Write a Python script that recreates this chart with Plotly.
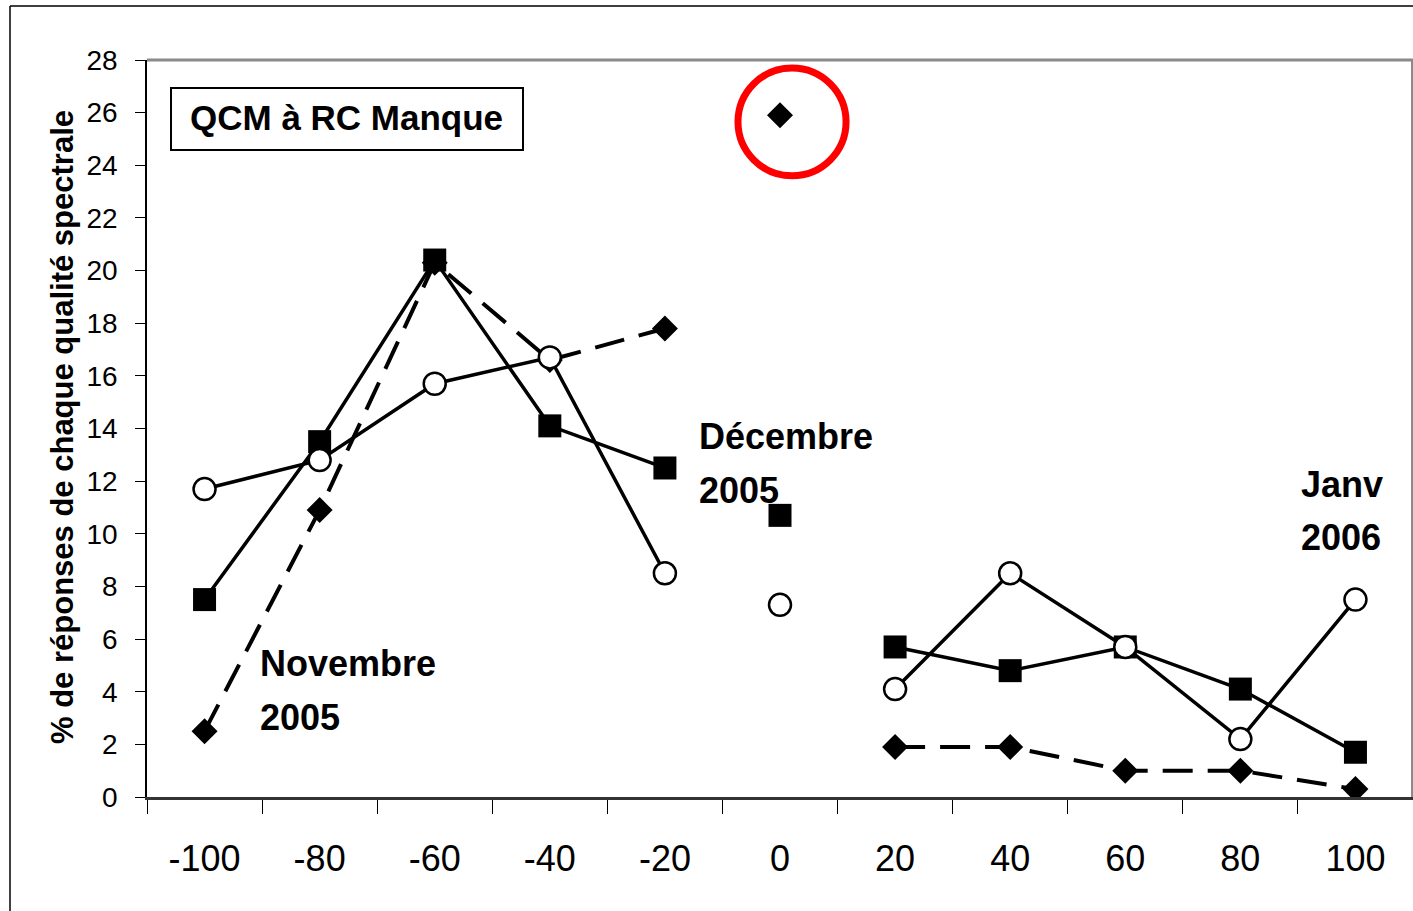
import plotly.graph_objects as go

# ---- data ----
categories = ["-100", "-80", "-60", "-40", "-20", "0", "20", "40", "60", "80", "100"]
squares = [7.5, 13.5, 20.4, 14.1, 12.5, 10.7, 5.7, 4.8, 5.7, 4.1, 1.7]
circles = [11.7, 12.8, 15.7, 16.7, 8.5, 7.3, 4.1, 8.5, 5.7, 2.2, 7.5]
diamonds = [2.5, 10.9, 20.3, 16.6, 17.8, 25.9, 1.9, 1.9, 1.0, 1.0, 0.3]
gap_category = "0"
y_ticks = list(range(0, 29, 2))
y_title = "% de réponses de chaque qualité spectrale"
box_label = "QCM à RC Manque"
period_labels = [("Novembre", "2005"), ("Décembre", "2005"), ("Janv", "2006")]

FONT = "Liberation Sans, Arial, sans-serif"

W, H = 1413, 911
L, R, T, B = 147, 1413, 60, 797  # plot area in pixels


def px_x(p):
    return (p - L) / (R - L)


def px_y(p):
    return (B - p) / (B - T)


def gapped(vals):
    return [v if c != gap_category else None for c, v in zip(categories, vals)]


fig = go.Figure()

series = [
    (diamonds, dict(symbol="diamond", size=20, color="black"), dict(color="black", width=4, dash="30px,15px")),
    (squares, dict(symbol="square", size=23, color="black"), dict(color="black", width=3.5)),
    (circles, dict(symbol="circle", size=22, color="white", line=dict(color="black", width=2.5)),
     dict(color="black", width=3.5)),
]
for vals, mk, ln in series:
    fig.add_trace(go.Scatter(x=categories, y=gapped(vals), mode="lines", line=ln,
                             connectgaps=False, showlegend=False, hoverinfo="skip"))
    fig.add_trace(go.Scatter(x=categories, y=vals, mode="markers", marker=mk,
                             showlegend=False))

shapes = []
# outer frame (partially visible)
shapes.append(dict(type="line", xref="paper", yref="paper", x0=px_x(10), x1=px_x(10),
                   y0=px_y(6), y1=px_y(960), line=dict(color="black", width=1.5)))
shapes.append(dict(type="line", xref="paper", yref="paper", x0=px_x(10), x1=px_x(1460),
                   y0=px_y(6), y1=px_y(6), line=dict(color="black", width=1.5)))
# plot area top border (grey)
shapes.append(dict(type="line", xref="paper", yref="paper", x0=0, x1=1, y0=1, y1=1,
                   line=dict(color="#8a8a8a", width=3)))
shapes.append(dict(type="line", xref="paper", yref="paper", x0=px_x(1412), x1=px_x(1412), y0=0, y1=1,
                   line=dict(color="#8a8a8a", width=2)))
# box around title label
shapes.append(dict(type="rect", xref="paper", yref="paper", x0=px_x(171), x1=px_x(523),
                   y0=px_y(150), y1=px_y(88), line=dict(color="black", width=2),
                   fillcolor="white", layer="below"))
# red circle around the outlier
shapes.append(dict(type="circle", xref="x", yref="y", x0=4.635, x1=5.574, y0=23.6, y1=27.7,
                   line=dict(color="#ff0000", width=7)))

annotations = []
annotations.append(dict(xref="paper", yref="paper", x=px_x(346), y=px_y(118), text=box_label,
                        showarrow=False, xanchor="center", yanchor="middle",
                        font=dict(family=FONT, size=35, color="black", weight="bold")))
label_pos = [(258, 663, 717), (697, 436, 490), (1299, 484, 537)]
for (l1, l2), (lx, y1, y2) in zip(period_labels, label_pos):
    for txt, yy in ((l1, y1), (l2, y2)):
        annotations.append(dict(xref="paper", yref="paper", x=px_x(lx), y=px_y(yy), text=txt,
                                showarrow=False, xanchor="left", yanchor="middle",
                                font=dict(family=FONT, size=36, color="black", weight="bold")))
# y axis title
annotations.append(dict(xref="paper", yref="paper", x=px_x(63), y=px_y(427), text=y_title,
                        showarrow=False, textangle=-90, xanchor="center", yanchor="middle",
                        font=dict(family=FONT, size=31, color="black", weight="bold")))

fig.update_layout(
    width=W, height=H,
    margin=dict(l=L, r=W - R, t=T, b=H - B, pad=0),
    paper_bgcolor="white", plot_bgcolor="white",
    shapes=shapes, annotations=annotations,
    font=dict(family=FONT, color="black"),
)
fig.update_xaxes(
    type="category", categoryorder="array", categoryarray=categories,
    range=[-0.5, len(categories) - 0.5],
    tickson="boundaries", ticks="outside", ticklen=14, tickwidth=1.2, tickcolor="black",
    showline=True, linecolor="#333333", linewidth=2.5, showgrid=False, zeroline=False,
    tickfont=dict(family=FONT, size=36, color="black"), ticklabelstandoff=28,
)
fig.update_yaxes(
    range=[0, 28], tickvals=y_ticks, ticks="outside", ticklen=10, tickwidth=1.2, tickcolor="black",
    showline=True, linecolor="black", linewidth=1.5, showgrid=False, zeroline=False,
    tickfont=dict(family=FONT, size=28, color="black"), ticklabelstandoff=12,
)

fig.write_html("out.html", config={"displayModeBar": False},
               post_script="document.body.style.margin='0';document.body.style.padding='0';")
